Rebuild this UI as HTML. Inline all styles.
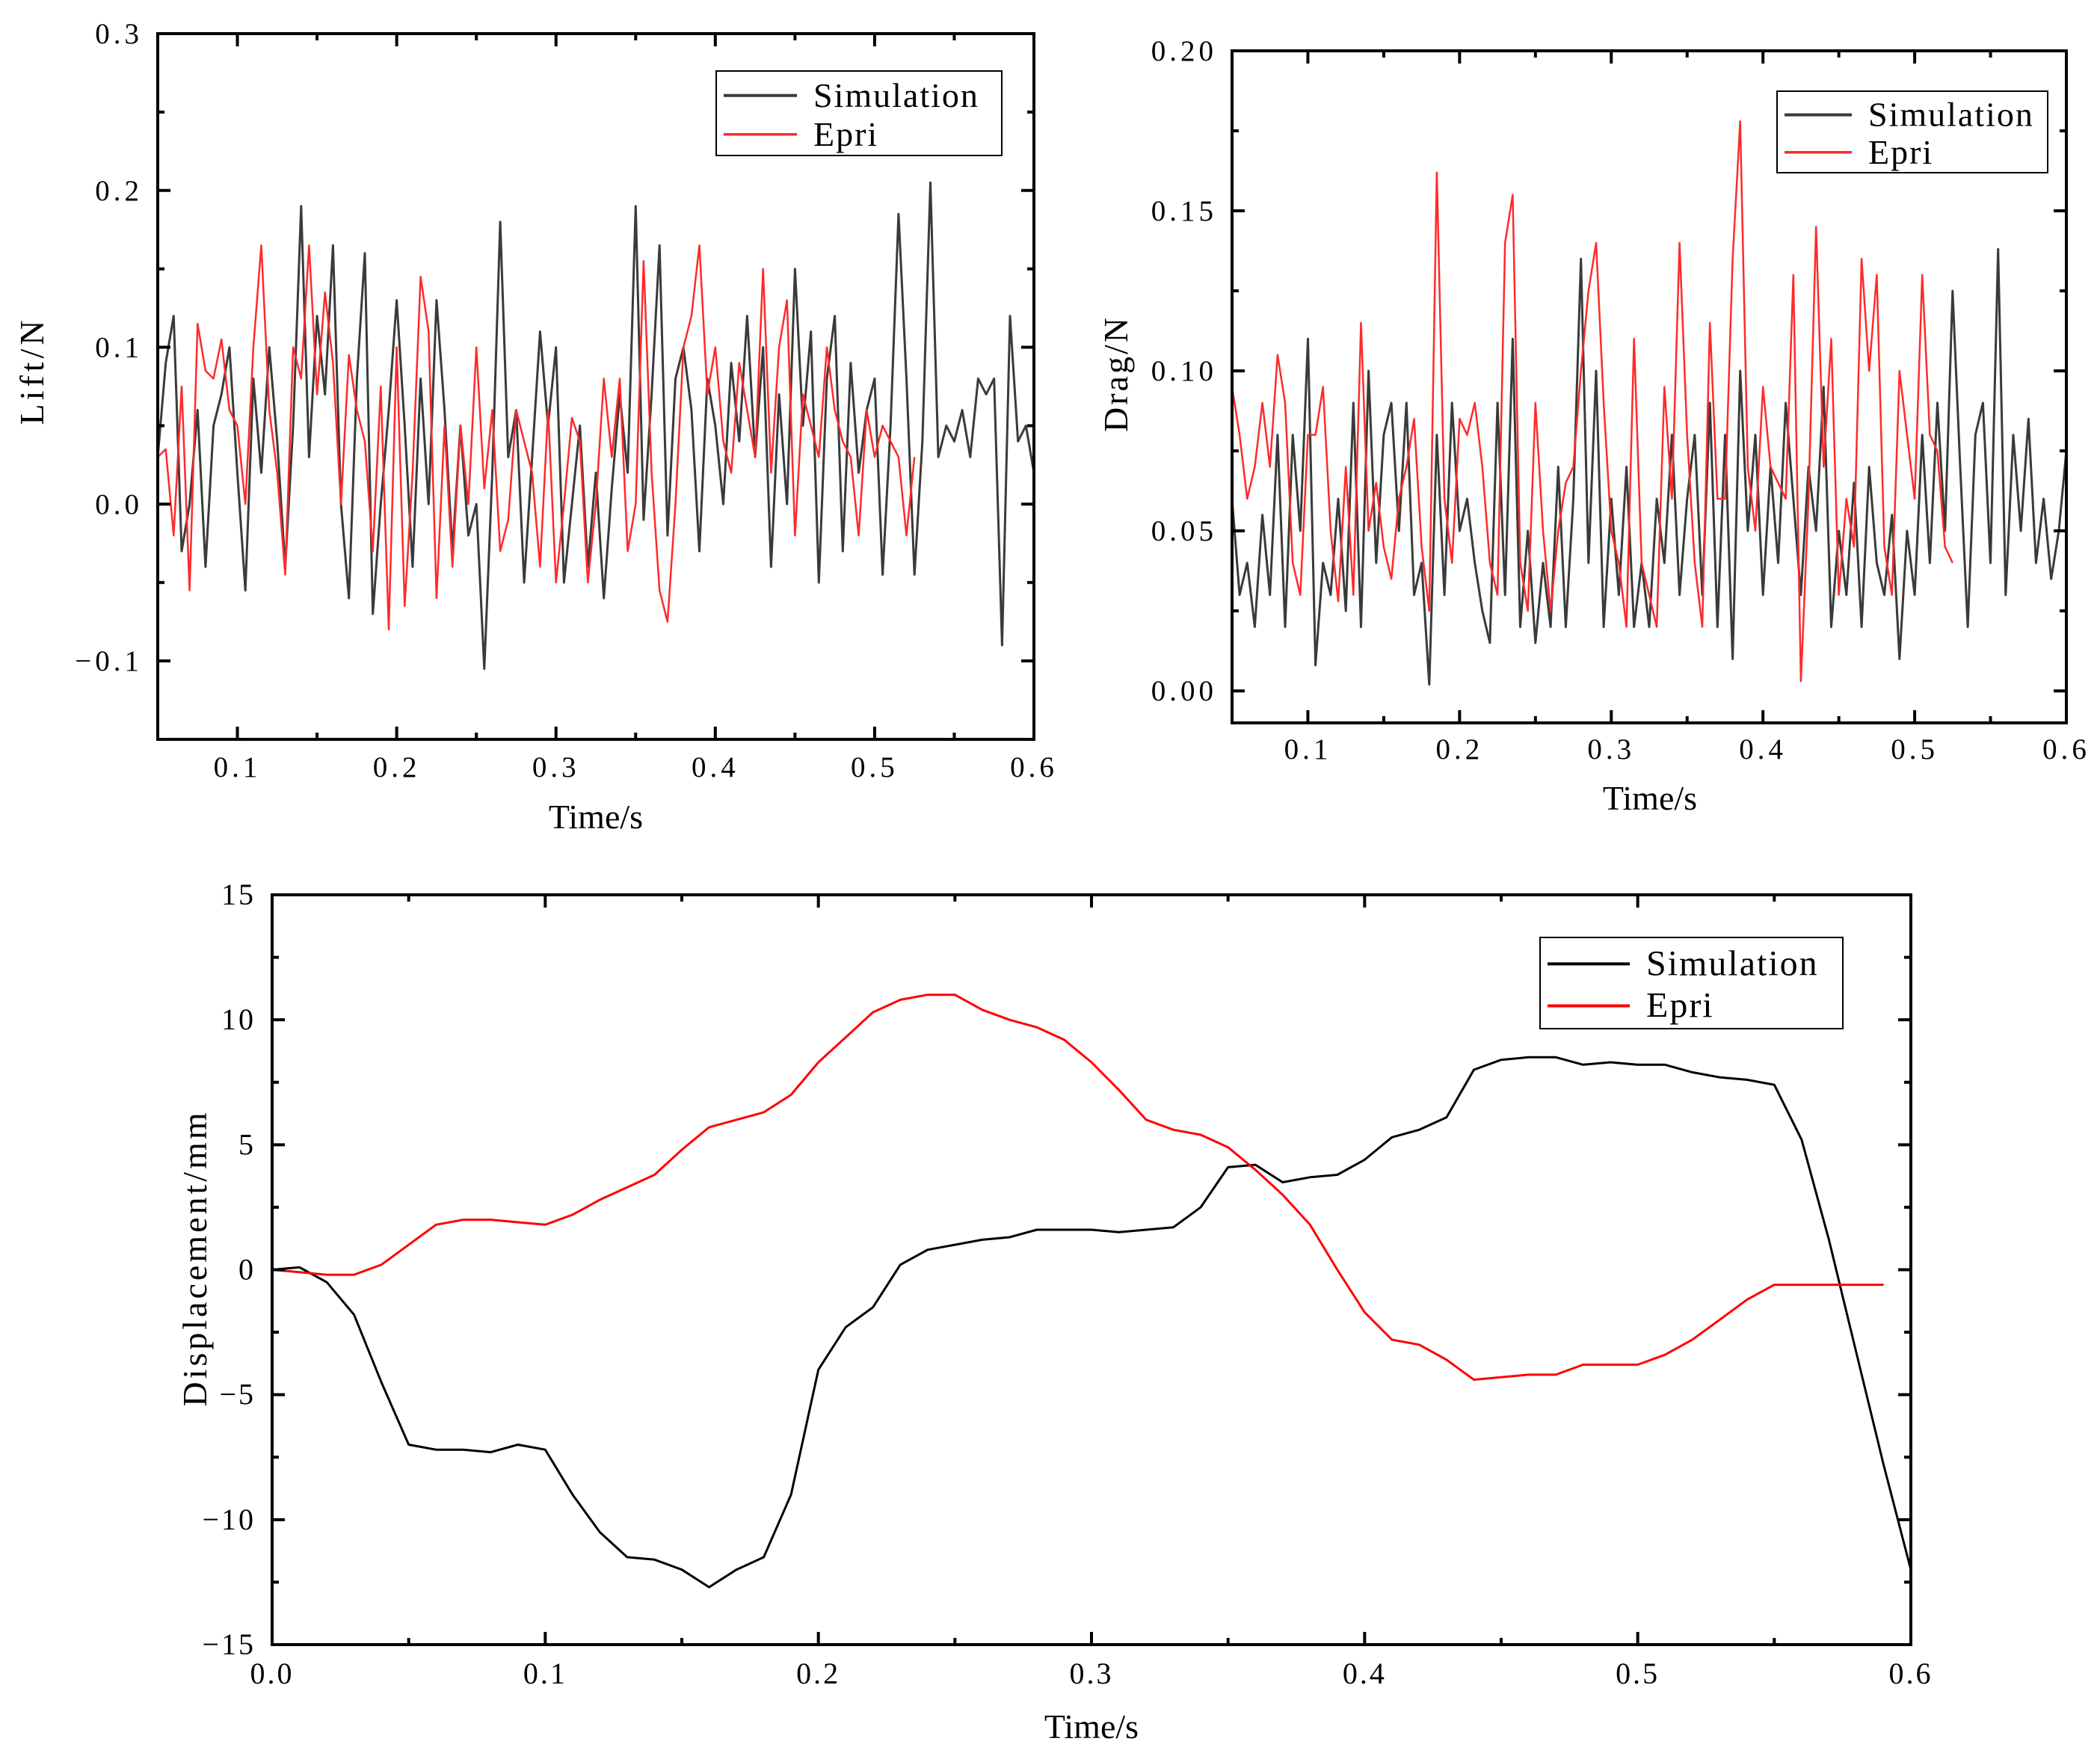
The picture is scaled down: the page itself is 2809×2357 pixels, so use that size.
<!DOCTYPE html>
<html><head><meta charset="utf-8"><style>
html,body{margin:0;padding:0;background:#fff;}
svg{display:block;}
text{font-family:"Liberation Serif","Noto Serif CJK SC",serif;fill:#000;}
</style></head><body>
<svg id="fig" width="2809" height="2357" viewBox="0 0 2809 2357" xmlns="http://www.w3.org/2000/svg"></svg>
<script>
// ---- Lift chart data ----
const liftSimValues = [0.03,0.09,0.12,-0.03,0.0,0.06,-0.04,0.05,0.07,0.1,0.02,-0.055,0.08,0.02,0.1,0.04,-0.04,0.05,0.19,0.03,0.12,0.07,0.165,0.0,-0.06,0.08,0.16,-0.07,0.0,0.06,0.13,0.05,-0.04,0.08,0.0,0.13,0.06,-0.03,0.05,-0.02,0.0,-0.105,0.02,0.18,0.03,0.06,-0.05,0.03,0.11,0.05,0.1,-0.05,0.0,0.05,-0.04,0.02,-0.06,0.01,0.07,0.02,0.19,-0.01,0.07,0.165,-0.02,0.08,0.1,0.06,-0.03,0.08,0.05,0.0,0.09,0.04,0.12,0.03,0.1,-0.04,0.07,0.0,0.15,0.05,0.11,-0.05,0.08,0.12,-0.03,0.09,0.02,0.06,0.08,-0.045,0.05,0.185,0.08,-0.045,0.04,0.205,0.03,0.05,0.04,0.06,0.03,0.08,0.07,0.08,-0.09,0.12,0.04,0.05,0.02];
const liftEpriValues = [0.03,0.035,-0.02,0.075,-0.055,0.115,0.085,0.08,0.105,0.06,0.05,0.0,0.1,0.165,0.06,0.02,-0.045,0.1,0.08,0.165,0.07,0.135,0.09,0.0,0.095,0.06,0.04,-0.03,0.075,-0.08,0.1,-0.065,0.02,0.145,0.11,-0.06,0.05,-0.04,0.05,0.0,0.1,0.01,0.06,-0.03,-0.01,0.06,0.04,0.02,-0.04,0.06,-0.05,0.0,0.055,0.04,-0.05,0.0,0.08,0.03,0.08,-0.03,0.0,0.155,0.02,-0.055,-0.075,0.0,0.1,0.12,0.165,0.07,0.1,0.04,0.02,0.09,0.06,0.03,0.15,0.02,0.1,0.13,-0.02,0.07,0.05,0.03,0.1,0.06,0.04,0.03,-0.02,0.06,0.03,0.05,0.04,0.03,-0.02,0.03];
const liftXTicks = ["0.1","0.2","0.3","0.4","0.5","0.6"];
const liftYTicks = ["-0.1","0.0","0.1","0.2","0.3"];
// ---- Drag chart data ----
const dragSimValues = [0.06,0.03,0.04,0.02,0.055,0.03,0.08,0.02,0.08,0.05,0.11,0.008,0.04,0.03,0.06,0.025,0.09,0.02,0.1,0.04,0.08,0.09,0.05,0.09,0.03,0.04,0.002,0.08,0.03,0.09,0.05,0.06,0.04,0.025,0.015,0.09,0.03,0.11,0.02,0.05,0.015,0.04,0.02,0.07,0.02,0.06,0.135,0.04,0.1,0.02,0.06,0.03,0.07,0.02,0.04,0.02,0.06,0.04,0.08,0.03,0.06,0.08,0.03,0.09,0.02,0.08,0.01,0.1,0.05,0.08,0.03,0.07,0.04,0.09,0.06,0.03,0.07,0.05,0.095,0.02,0.05,0.03,0.065,0.02,0.07,0.04,0.03,0.055,0.01,0.05,0.03,0.08,0.04,0.09,0.05,0.125,0.07,0.02,0.08,0.09,0.04,0.138,0.03,0.08,0.05,0.085,0.04,0.06,0.035,0.05,0.075];
const dragEpriValues = [0.095,0.08,0.06,0.07,0.09,0.07,0.105,0.09,0.04,0.03,0.08,0.08,0.095,0.05,0.028,0.07,0.03,0.115,0.05,0.065,0.045,0.035,0.06,0.07,0.085,0.045,0.025,0.162,0.06,0.04,0.085,0.08,0.09,0.07,0.04,0.03,0.14,0.155,0.04,0.025,0.09,0.05,0.025,0.05,0.065,0.07,0.1,0.125,0.14,0.09,0.05,0.04,0.02,0.11,0.04,0.03,0.02,0.095,0.06,0.14,0.08,0.04,0.02,0.115,0.06,0.06,0.135,0.178,0.07,0.05,0.095,0.07,0.065,0.06,0.13,0.003,0.06,0.145,0.07,0.11,0.03,0.06,0.045,0.135,0.1,0.13,0.045,0.03,0.1,0.08,0.06,0.13,0.08,0.075,0.045,0.04];
const dragXTicks = ["0.1","0.2","0.3","0.4","0.5","0.6"];
const dragYTicks = ["0.00","0.05","0.10","0.15","0.20"];
// ---- Displacement chart data ----
const dispSimValues = [0,0.1,-0.5,-1.8,-4.5,-7.0,-7.2,-7.2,-7.3,-7.0,-7.2,-9,-10.5,-11.5,-11.6,-12.0,-12.7,-12.0,-11.5,-9,-4,-2.3,-1.5,0.2,0.8,1.0,1.2,1.3,1.6,1.6,1.6,1.5,1.6,1.7,2.5,4.1,4.2,3.5,3.7,3.8,4.4,5.3,5.6,6.1,8.0,8.4,8.5,8.5,8.2,8.3,8.2,8.2,7.9,7.7,7.6,7.4,5.2,1.2,-3.3,-7.8,-12.0];
const dispEpriValues = [0,-0.1,-0.2,-0.2,0.2,1.0,1.8,2.0,2.0,1.9,1.8,2.2,2.8,3.3,3.8,4.8,5.7,6.0,6.3,7.0,8.3,9.3,10.3,10.8,11.0,11.0,10.4,10.0,9.7,9.2,8.3,7.2,6.0,5.6,5.4,4.9,4.0,3.0,1.8,0,-1.7,-2.8,-3.0,-3.6,-4.4,-4.3,-4.2,-4.2,-3.8,-3.8,-3.8,-3.4,-2.8,-2.0,-1.2,-0.6,-0.6,-0.6,-0.6,-0.6];
const dispXTicks = ["0.0","0.1","0.2","0.3","0.4","0.5","0.6"];
const dispYTicks = ["-15","-10","-5","0","5","10","15"];

const NS="http://www.w3.org/2000/svg";
const svg=document.getElementById('fig');
function mk(tag,attrs,parent){const e=document.createElementNS(NS,tag);for(const k in attrs)e.setAttribute(k,attrs[k]);(parent||svg).appendChild(e);return e;}

function chart(cfg){
  const g=mk('g',{});
  
  
  const X=v=>cfg.L+(v-cfg.x0)/(cfg.x1-cfg.x0)*(cfg.R-cfg.L);
  const Y=v=>cfg.B-(v-cfg.y0)/(cfg.y1-cfg.y0)*(cfg.B-cfg.T);
  cfg.series.forEach(s=>{
    const pts=s.vals.map((v,i)=>X(s.start+i*s.step).toFixed(1)+','+Y(v).toFixed(1)).join(' ');
    const p=mk('polyline',{points:pts,fill:'none',stroke:s.color,'stroke-width':s.w,'stroke-linejoin':'round'},g);
    
    
  });
  const fr=mk('rect',{x:cfg.L,y:cfg.T,width:cfg.R-cfg.L,height:cfg.B-cfg.T,fill:'none',stroke:'#000','stroke-width':4},g);
  
  
  cfg.xt.forEach(t=>{
    const v=parseFloat(t),x=X(v);
    mk('line',{x1:x,y1:cfg.B,x2:x,y2:cfg.B-17,stroke:'#000','stroke-width':4},g);
    mk('line',{x1:x,y1:cfg.T,x2:x,y2:cfg.T+17,stroke:'#000','stroke-width':4},g);
    const tx=mk('text',{x:x,y:cfg.B+cfg.xlOff,'font-size':cfg.fs,'text-anchor':'middle','letter-spacing':cfg.ls},g);
    tx.textContent=t;
    
    
    const xm=X(v-cfg.xstep/2);
    if(xm>cfg.L+2){
      mk('line',{x1:xm,y1:cfg.B,x2:xm,y2:cfg.B-9,stroke:'#000','stroke-width':4},g);
      mk('line',{x1:xm,y1:cfg.T,x2:xm,y2:cfg.T+9,stroke:'#000','stroke-width':4},g);
    }
  });
  cfg.yt.forEach(t=>{
    const v=parseFloat(t),y=Y(v);
    mk('line',{x1:cfg.L,y1:y,x2:cfg.L+17,y2:y,stroke:'#000','stroke-width':4},g);
    mk('line',{x1:cfg.R,y1:y,x2:cfg.R-17,y2:y,stroke:'#000','stroke-width':4},g);
    const tx=mk('text',{x:cfg.L-cfg.ylOff,y:y+13,'font-size':cfg.fs,'text-anchor':'end','letter-spacing':cfg.ls},g);
    tx.textContent=t.replace('-','\u2212');
    
    
    const ym=Y(v-cfg.ystep/2);
    if(ym<cfg.B-2){
      mk('line',{x1:cfg.L,y1:ym,x2:cfg.L+9,y2:ym,stroke:'#000','stroke-width':4},g);
      mk('line',{x1:cfg.R,y1:ym,x2:cfg.R-9,y2:ym,stroke:'#000','stroke-width':4},g);
    }
  });
  const xt=mk('text',{x:cfg.xtx,y:cfg.xty,'font-size':46,'text-anchor':'middle'},g);
  xt.textContent='Time/s';
  
  
  const yt=mk('text',{x:0,y:0,'font-size':46,'text-anchor':'middle','letter-spacing':cfg.ytls,transform:`translate(${cfg.ytx},${cfg.yty}) rotate(-90)`},g);
  yt.textContent=cfg.ytitle;
  
  
  const lg=cfg.leg;
  const lgg=mk('g',{},g);
  
  
  mk('rect',{x:lg.x,y:lg.y,width:lg.w,height:lg.h,fill:'#fff',stroke:'#000','stroke-width':2},lgg);
  cfg.series.forEach((s,i)=>{
    const yy=lg.y+lg.h*(0.29+0.46*i);
    mk('line',{x1:lg.x+10,y1:yy,x2:lg.x+lg.lineW,y2:yy,stroke:s.color,'stroke-width':s.w+1},lgg);
    const t=mk('text',{x:lg.x+lg.lineW+22,y:yy+15,'font-size':lg.fs,'letter-spacing':2},lgg);
    t.textContent=s.label;
    
    
  });
}

chart({name:'lift-chart',L:211,R:1383,T:45,B:989,x0:0.05,x1:0.6,y0:-0.15,y1:0.3,xstep:0.1,ystep:0.1,
  xt:liftXTicks,yt:liftYTicks,fs:39,ls:5,xlOff:50,ylOff:20,
  xtx:797,xty:1108,ytx:58,yty:496,ytitle:'Lift/N',ytls:5,
  leg:{x:958,y:95,w:382,h:113,lineW:108,fs:46},
  series:[{vals:liftSimValues,start:0.05,step:0.005,color:'#3a3a3a',w:3,label:'Simulation',dname:'lift-simulation-line'},
          {vals:liftEpriValues,start:0.05,step:0.005,color:'#ff2a2a',w:2.5,label:'Epri',dname:'lift-epri-line'}]});

chart({name:'drag-chart',L:1648,R:2764,T:68,B:967,x0:0.05,x1:0.6,y0:-0.01,y1:0.2,xstep:0.1,ystep:0.05,
  xt:dragXTicks,yt:dragYTicks,fs:39,ls:5,xlOff:48,ylOff:20,
  xtx:2207,xty:1083,ytx:1508,yty:500,ytitle:'Drag/N',ytls:3,
  leg:{x:2377,y:122,w:362,h:109,lineW:100,fs:46},
  series:[{vals:dragSimValues,start:0.05,step:0.005,color:'#3a3a3a',w:3,label:'Simulation',dname:'drag-simulation-line'},
          {vals:dragEpriValues,start:0.05,step:0.005,color:'#ff2a2a',w:2.5,label:'Epri',dname:'drag-epri-line'}]});

chart({name:'displacement-chart',L:364,R:2556,T:1197,B:2200,x0:0,x1:0.6,y0:-15,y1:15,xstep:0.1,ystep:5,
  xt:dispXTicks,yt:dispYTicks,fs:40,ls:3,xlOff:52,ylOff:22,
  xtx:1460,xty:2325,ytx:276,yty:1683,ytitle:'Displacement/mm',ytls:4,
  leg:{x:2060,y:1254,w:405,h:122,lineW:120,fs:48},
  series:[{vals:dispSimValues,start:0,step:0.01,color:'#000',w:3,label:'Simulation',dname:'displacement-simulation-line'},
          {vals:dispEpriValues,start:0,step:0.01,color:'#ff0000',w:3,label:'Epri',dname:'displacement-epri-line'}]});
</script>
</body></html>
